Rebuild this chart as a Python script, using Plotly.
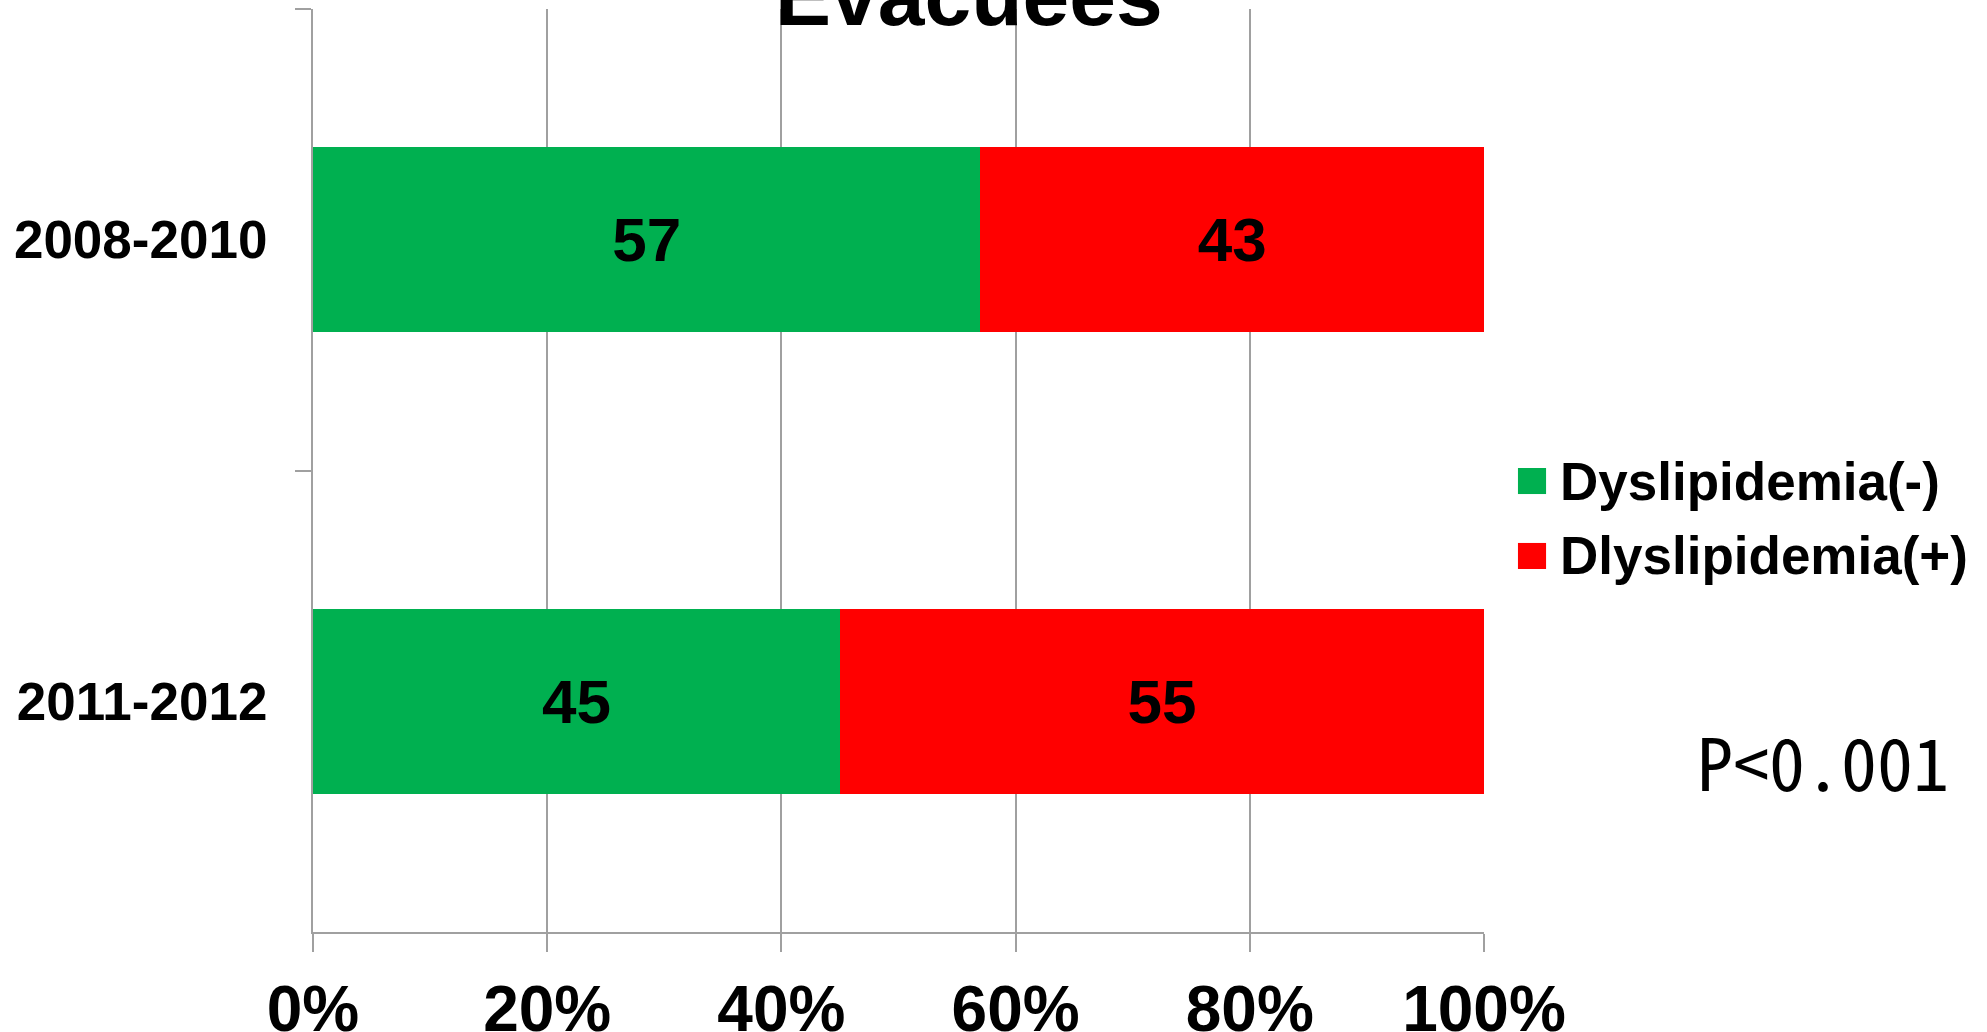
import plotly.graph_objects as go

# Share of evacuees with / without dyslipidemia per period (%)
periods = ["2008-2010", "2011-2012"]
negative = [57, 45]
positive = [43, 55]
series_names = ["Dyslipidemia(-)", "Dlyslipidemia(+)"]
series_colors = ["#00B050", "#FF0000"]
x_ticks = [0, 20, 40, 60, 80, 100]
x_tick_labels = ["0%", "20%", "40%", "60%", "80%", "100%"]
title_text = "Evacuees"
p_text = "P<0.001"

FONT = "Liberation Sans, Arial, Helvetica, sans-serif"
AXIS_GREY = "#A0A0A0"

fig = go.Figure()
for name, vals, col in zip(series_names, [negative, positive], series_colors):
    fig.add_trace(go.Bar(
        y=periods, x=vals, name=name, orientation="h",
        marker=dict(color=col, line=dict(width=0)),
        text=vals, texttemplate="%{text}", textposition="inside",
        insidetextanchor="middle",
        textfont=dict(family=FONT, size=62, color="black", weight="bold"),
        showlegend=False,
    ))

fig.update_layout(
    width=1987, height=1032,
    margin=dict(l=313, r=503, t=9, b=100, autoexpand=False),
    barmode="stack", bargap=0.6,
    plot_bgcolor="white", paper_bgcolor="white",
    uniformtext=dict(mode=False),
    font=dict(family=FONT, color="black"),
)

fig.update_xaxes(
    range=[0, 100], tickvals=x_ticks, ticktext=x_tick_labels,
    showgrid=True, gridcolor=AXIS_GREY, gridwidth=2,
    showline=True, linecolor=AXIS_GREY, linewidth=2,
    ticks="outside", ticklen=18, tickcolor=AXIS_GREY, tickwidth=2,
    ticklabelstandoff=2,
    tickfont=dict(family=FONT, size=64, color="black", weight="bold"),
    zeroline=False, mirror=False,
)
fig.update_yaxes(
    autorange="reversed", type="category",
    showgrid=False,
    showline=True, linecolor=AXIS_GREY, linewidth=2,
    ticks="outside", tickson="boundaries", ticklen=16,
    tickcolor=AXIS_GREY, tickwidth=2,
    ticklabelstandoff=33,
    tickfont=dict(family=FONT, size=53, color="black", weight="bold"),
)

# Legend: coloured squares with labels, right of the plot area
legend_rows = [(0.5027, 0.4745), (0.4215, 0.3933)]
for (y1, y0), name, col in zip(legend_rows, series_names, series_colors):
    fig.add_shape(type="rect", xref="paper", yref="paper",
                  x0=1.029, x1=1.053, y0=y0, y1=y1,
                  fillcolor=col, line=dict(width=0))
    fig.add_annotation(xref="paper", yref="paper", x=1.063, y=(y0 + y1) / 2,
                       xanchor="left", yanchor="middle", showarrow=False,
                       text=name,
                       font=dict(family=FONT, size=53, color="black", weight="bold"))

# Significance note
fig.add_annotation(xref="paper", yref="paper", x=1.180, y=0.1874,
                   xanchor="left", yanchor="middle", showarrow=False,
                   text=p_text,
                   font=dict(family="Noto Sans Mono CJK JP, Noto Sans CJK JP, DejaVu Sans Mono, monospace",
                             size=72, color="black"))

# Title, partially above the top edge
fig.add_annotation(xref="paper", yref="paper", x=(969 - 313) / 1171, y=1.014,
                   xanchor="center", yanchor="middle", showarrow=False,
                   text=title_text,
                   font=dict(family=FONT, size=84, color="black", weight="bold"))

fig.write_html("out.html")
